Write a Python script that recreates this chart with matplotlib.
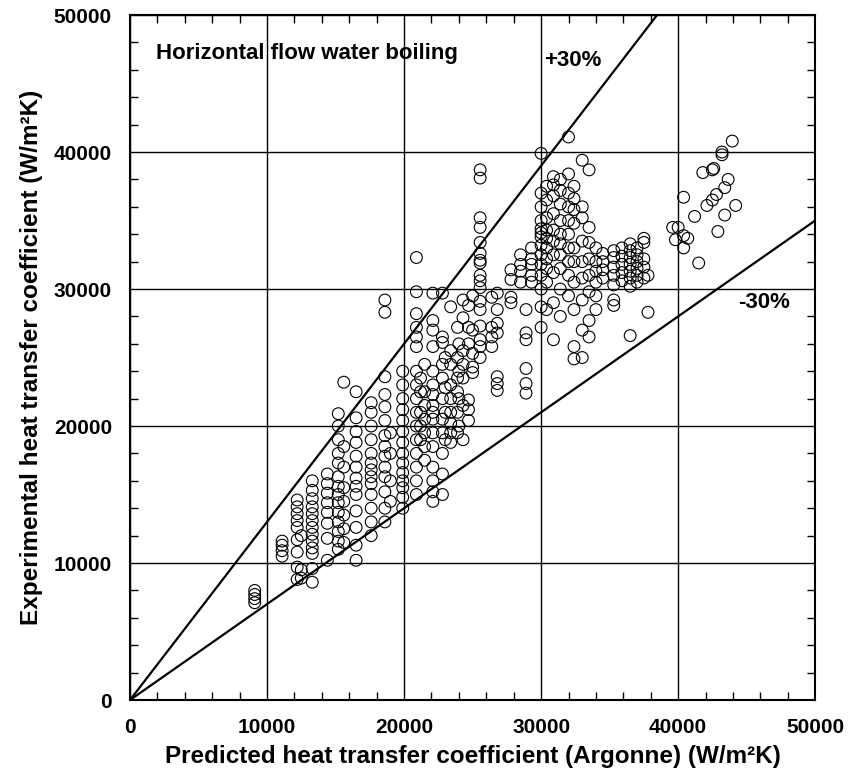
import numpy as np
import matplotlib.pyplot as plt
from matplotlib.ticker import MultipleLocator

plt.rcParams['font.family'] = ['Liberation Sans', 'DejaVu Sans']

low_x = [9100, 11100, 12200, 12500, 13300, 14400, 15200, 15600, 16500, 17600, 18600, 19000]
low_y = [
    [7100, 7400, 7700, 8000],
    [10500, 10900, 11300, 11600],
    [8800, 9700, 10800, 11700, 12600, 13100, 13600, 14100, 14600],
    [8900, 9500, 12000],
    [8600, 9600, 10700, 11100, 11600, 12100, 12600, 13100, 13600, 14100, 14700, 15300, 16000],
    [10200, 11800, 12900, 13700, 14400, 15100, 15800, 16500],
    [11000, 11600, 12300, 13000, 13700, 14400, 15000, 15600, 16300, 17300, 18000, 19000, 20000, 20900],
    [11500, 12500, 13500, 14500, 15500, 17000, 18500, 23200],
    [10200, 11300, 12600, 13800, 15000, 15600, 16200, 17000, 17800, 18800, 19600, 20600, 22500],
    [12000, 13000, 14000, 15000, 15800, 16300, 16800, 17300, 18000, 19000, 20000, 21000, 21700],
    [13000, 14000, 15200, 16300, 17000, 17800, 18500, 19300, 20400, 21400, 22300, 23600, 28300, 29200],
    [14500, 16000, 18000, 19500],
]

mid_x = [19900, 20900, 21200, 21500, 22100, 22800, 23000, 23400, 23900, 24000, 24300, 24700, 25000, 25550,
         26400, 26800, 27800, 28500, 28900, 29300]
mid_y = [
    [14000, 14800, 15500, 16000, 16600, 17300, 18000, 18800, 19600, 20400, 21200, 22000, 23000, 24000],
    [15000, 16000, 17000, 18000, 19000, 20000, 21000, 22000, 23000, 24000, 25800, 26500, 27200, 28200, 29800, 32300],
    [19000, 20000, 21000, 22500, 23500],
    [17500, 18500, 19500, 20500, 21500, 22500, 24500],
    [14500, 15200, 16000, 17000, 18500, 19500, 20500, 21000, 21500, 22300, 23000, 24000, 25800, 27000, 27700, 29700],
    [15000, 16500, 18000, 19500, 20500, 22000, 23500, 24500, 26100, 26500, 29700],
    [19000, 21000, 22800, 25000],
    [18800, 19500, 20200, 21000, 22000, 23000, 24500, 25500, 28700],
    [19500, 21000, 22500, 23500, 25000, 27200],
    [20000, 22000, 24000, 26000],
    [19000, 21500, 23500, 24500, 25500, 27900, 29200],
    [20400, 21200, 21900, 26000, 27200, 28800],
    [23900, 24300, 25300, 27000, 29500],
    [25000, 25800, 26300, 27300, 28500, 29100, 30100, 30600, 31000, 31900, 32100, 32600, 33400, 34500, 35200, 38100, 38700],
    [25800, 26500, 27200, 29400],
    [22600, 23100, 23600, 26800, 27500, 28500, 29700],
    [29000, 29400, 30700, 31400],
    [30500, 31300, 31800, 32500],
    [22400, 23100, 24200, 26300, 26800, 28500],
    [30500, 31000, 31800, 32200, 33000],
]

high_x = [30000, 30400, 30900, 31400, 32000, 32400, 33000, 33500, 34000, 34500,
          35300, 35900, 36500, 37000, 37500, 37800]
high_y = [
    [27200, 28700, 30000, 31000, 31800, 32500, 33200, 33800, 34100, 34400, 35000, 36000, 37000, 39900],
    [28500, 30500, 31500, 32200, 33000, 33700, 34300, 35200, 36500, 37500],
    [26300, 29000, 31200, 32500, 33500, 34300, 35500, 36800, 37600, 38200],
    [28000, 30000, 31500, 32500, 33300, 34000, 35000, 36200, 37200, 38000],
    [29500, 31000, 32000, 33000, 34000, 35000, 36000, 37000, 38400, 41100],
    [24900, 25800, 28500, 30500, 32000, 33000, 34800, 35800, 36600, 37500],
    [25000, 27000, 29200, 30800, 32000, 33500, 35200, 36000, 39400],
    [26500, 27700, 29800, 31000, 32200, 33400, 34500, 38700],
    [28500, 29500, 30500, 31300, 32000, 33000],
    [30800, 31400, 32000, 32600],
    [28800, 29200, 30300, 31000, 31600, 32300, 32800],
    [30600, 31200, 31800, 32400, 33000],
    [26600, 30200, 30800, 31300, 31800, 32300, 32800, 33300],
    [30500, 31000, 31500, 32000, 32500, 33000],
    [30800, 31600, 32200, 33400, 33700],
    [28300, 31000],
]

# scattered points beyond 39000
far_x = [39600, 40000, 39800, 40400, 40700, 40400, 41200, 40400, 41500, 41800, 42600, 42500,
         43200, 43200, 43950, 43650, 43400, 42800, 42500, 42100, 44200, 43400, 42900]
far_y = [34500, 34500, 33600, 33900, 33700, 33000, 35300, 36700, 31900, 38500, 38800, 38700,
         40000, 39800, 40800, 38000, 37400, 36900, 36500, 36100, 36100, 35400, 34200]

upper_slope = 1.3
lower_slope = 0.7

pred = []
expv = []
for xs, ys in [(low_x, low_y), (mid_x, mid_y), (high_x, high_y)]:
    for x, col in zip(xs, ys):
        pred += [x] * len(col)
        expv += col
pred += far_x
expv += far_y

fig = plt.figure(figsize=(8.48, 7.79), dpi=100)
ax = fig.add_axes([0.1533, 0.1014, 0.808, 0.8793])

ax.scatter(pred, expv, s=72, facecolors='none', edgecolors='black', linewidths=0.8, zorder=3)

line_x = np.array([0, 50000])
ax.plot(line_x, upper_slope * line_x, color='black', lw=1.6, zorder=4)
ax.plot(line_x, lower_slope * line_x, color='black', lw=1.6, zorder=4)

ax.set_xlim(0, 50000)
ax.set_ylim(0, 50000)
ax.xaxis.set_major_locator(MultipleLocator(10000))
ax.yaxis.set_major_locator(MultipleLocator(10000))
ax.xaxis.set_minor_locator(MultipleLocator(2000))
ax.yaxis.set_minor_locator(MultipleLocator(2000))
ax.grid(True, which='major', color='black', lw=1.0)
ax.set_axisbelow(True)

ax.tick_params(which='both', direction='in', top=True, right=True, color='black')
ax.tick_params(which='minor', length=6, width=1)
ax.tick_params(which='major', length=0)
ax.tick_params(axis='x', which='major', pad=13, labelsize=15)
ax.tick_params(axis='y', which='major', pad=13, labelsize=15)
for lab in ax.get_xticklabels() + ax.get_yticklabels():
    lab.set_fontweight('bold')
for sp in ax.spines.values():
    sp.set_linewidth(1.5)

ax.set_xlabel('Predicted heat transfer coefficient (Argonne) (W/m²K)', fontsize=17.5, fontweight='bold', labelpad=6)
ax.set_ylabel('Experimental heat transfer coefficient (W/m²K)', fontsize=17.5, fontweight='bold', labelpad=8)

ax.text(1900, 47200, 'Horizontal flow water boiling', fontsize=16, fontweight='bold', va='center')
ax.text(30200, 46700, '+30%', fontsize=16, fontweight='bold', va='center')
ax.text(44400, 29000, '-30%', fontsize=16, fontweight='bold', va='center')

fig.savefig('out.png', dpi=100)
